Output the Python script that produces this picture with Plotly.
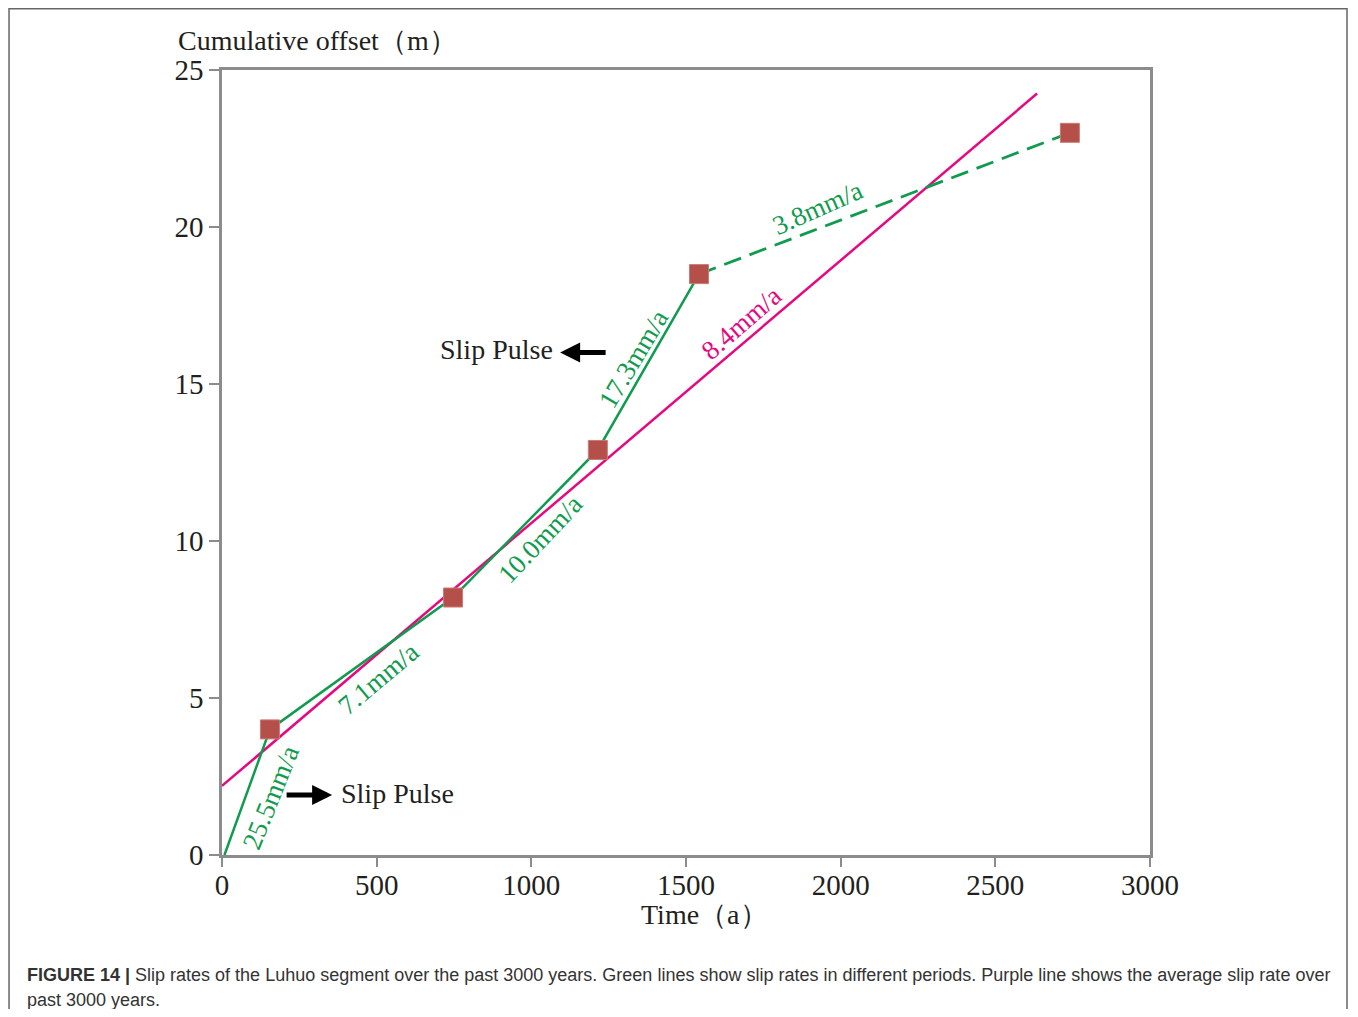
import plotly.graph_objects as go

# Data
time_pts = [155, 747, 1215, 1542, 2741]
offset_pts = [4.0, 8.2, 12.9, 18.5, 23.0]
green_solid_x = [8, 155, 747, 1215, 1542]
green_solid_y = [0.0, 4.0, 8.2, 12.9, 18.5]
green_dash_x = [1542, 2741]
green_dash_y = [18.5, 23.0]
avg_x = [0, 2635]
avg_y = [2.2, 24.25]

rate_labels = ["25.5mm/a", "7.1mm/a", "10.0mm/a", "17.3mm/a", "3.8mm/a", "8.4mm/a"]
rate_x = [158, 505, 1030, 1330, 1925, 1680]
rate_y = [1.85, 5.6, 10.06, 15.8, 20.6, 16.93]
rate_angle = [-68, -40, -47, -59, -24, -41]
rate_color = ["#109B4E"] * 5 + ["#E5097F"]

GREEN = "#109B4E"
MAGENTA = "#E5097F"
AXIS = "#8C8C8C"
SERIF = "Liberation Serif"
TXT = "#231F20"

fig = go.Figure()
fig.add_trace(go.Scatter(x=avg_x, y=avg_y, mode="lines",
                         line=dict(color=MAGENTA, width=2.5), showlegend=False))
fig.add_trace(go.Scatter(x=green_solid_x, y=green_solid_y, mode="lines",
                         line=dict(color=GREEN, width=2.5), showlegend=False))
fig.add_trace(go.Scatter(x=green_dash_x, y=green_dash_y, mode="lines",
                         line=dict(color=GREEN, width=2.8, dash="18px,9px"), showlegend=False))
fig.add_trace(go.Scatter(x=time_pts, y=offset_pts, mode="markers",
                         marker=dict(symbol="square", size=19, color="#B44F49",
                                     line=dict(color="#C97A75", width=1)),
                         showlegend=False))

for t, x, y, a, c in zip(rate_labels, rate_x, rate_y, rate_angle, rate_color):
    fig.add_annotation(x=x, y=y, text=t, textangle=a, showarrow=False,
                       font=dict(family=SERIF, size=27, color=c))

# Slip pulse annotations
fig.add_annotation(x=1093, y=16.0, ax=1245, ay=16.0, axref="x", ayref="y",
                   text="", showarrow=True, arrowhead=2, arrowsize=0.8,
                   arrowwidth=5, arrowcolor="black")
fig.add_annotation(x=1075, y=16.1, text="Slip Pulse", showarrow=False, xanchor="right",
                   font=dict(family=SERIF, size=28, color=TXT))
fig.add_annotation(x=356, y=1.91, ax=204, ay=1.91, axref="x", ayref="y",
                   text="", showarrow=True, arrowhead=2, arrowsize=0.8,
                   arrowwidth=5, arrowcolor="black")
fig.add_annotation(x=377, y=1.95, text="Slip Pulse", showarrow=False, xanchor="left",
                   font=dict(family=SERIF, size=28, color=TXT))

# Axis titles
fig.add_annotation(xref="paper", yref="paper", x=-0.0496, y=1.037, xanchor="left",
                   yanchor="middle", text="Cumulative offset（m）", showarrow=False,
                   font=dict(family=SERIF, size=28, color=TXT))
fig.add_annotation(xref="paper", yref="paper", x=0.520, y=-0.0764, xanchor="center",
                   yanchor="middle", text="Time（a）", showarrow=False,
                   font=dict(family=SERIF, size=28, color=TXT))

# Caption
fig.add_annotation(xref="paper", yref="paper", x=-0.2123, y=-0.1529, xanchor="left",
                   yanchor="middle", showarrow=False,
                   text="<b>FIGURE 14 |</b> Slip rates of the Luhuo segment over the past 3000 years. "
                        "Green lines show slip rates in different periods. Purple line shows the average slip rate over",
                   font=dict(family="Liberation Sans", size=18, color="#333333"))
fig.add_annotation(xref="paper", yref="paper", x=-0.2123, y=-0.1847, xanchor="left",
                   yanchor="middle", showarrow=False, text="past 3000 years.",
                   font=dict(family="Liberation Sans", size=18, color="#333333"))

# Outer frame
fig.add_shape(type="rect", xref="paper", yref="paper",
              x0=-0.2295, x1=1.2123, y0=-0.25, y1=1.0780,
              line=dict(color="#666666", width=1.5))

fig.update_xaxes(range=[0, 3000], tickvals=[0, 500, 1000, 1500, 2000, 2500, 3000],
                 showgrid=False, zeroline=False, showline=True, linecolor=AXIS,
                 linewidth=2.5, mirror=True, ticks="outside", ticklen=9, tickwidth=2,
                 tickcolor=AXIS, ticklabelstandoff=-7,
                 tickfont=dict(family=SERIF, size=29, color=TXT))
fig.update_yaxes(range=[0, 25], tickvals=[0, 5, 10, 15, 20, 25],
                 showgrid=False, zeroline=False, showline=True, linecolor=AXIS,
                 linewidth=2.5, mirror=True, ticks="outside", ticklen=10, tickwidth=2,
                 tickcolor=AXIS, ticklabelstandoff=0,
                 tickfont=dict(family=SERIF, size=29, color=TXT))

fig.update_layout(width=1350, height=1001,
                  margin=dict(l=214, r=208, t=62, b=154),
                  paper_bgcolor="white", plot_bgcolor="white")

fig.write_html("out.html")
